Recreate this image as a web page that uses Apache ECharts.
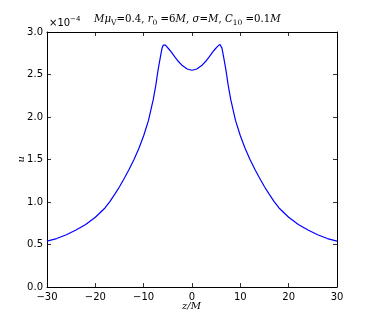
<!DOCTYPE html>
<html><head><meta charset="utf-8">
<script src="https://cdn.jsdelivr.net/npm/echarts@6/dist/echarts.min.js"></script>
<style>html,body{margin:0;padding:0;background:#fff}#c{width:374px;height:320px}</style>
</head><body><div id="c"></div>
<script>
var zValues = [-30,-28,-26,-24,-22,-20,-18,-17,-16,-15,-14,-13,-12,-11,-10,-9,-8,-7.5,-7,-6.5,-6.2,-5.95,-5.75,-5.5,-5.2,-4.8,-4.3,-3.6,-3,-2,-1,0,
  1,2,3,3.6,4.3,4.8,5.2,5.5,5.75,5.95,6.2,6.5,7,7.5,8,9,10,11,12,13,14,15,16,17,18,20,22,24,26,28,30];
var uValues = [0.54,0.57,0.615,0.67,0.735,0.82,0.93,1.005,1.09,1.18,1.28,1.385,1.50,1.63,1.78,1.96,2.21,2.37,2.56,2.72,2.81,2.845,2.855,2.845,2.825,2.80,2.765,2.71,2.665,2.605,2.565,2.55,
  2.565,2.605,2.665,2.71,2.765,2.80,2.825,2.845,2.855,2.845,2.81,2.72,2.56,2.37,2.21,1.96,1.78,1.63,1.50,1.385,1.28,1.18,1.09,1.005,0.93,0.82,0.735,0.67,0.615,0.57,0.54];
var xTicks = [-30,-20,-10,0,10,20,30];
var yTicks = [0.0,0.5,1.0,1.5,2.0,2.5,3.0];

var data = zValues.map(function(z,i){return [z,uValues[i]];});
var chart = echarts.init(document.getElementById('c'));
var lab = {fontFamily:'DejaVu Sans', fontSize:10, color:'#000'};
function fmtX(v){return String(v).replace('-','\u2212');}
var axLine = {show:true, onZero:false, lineStyle:{color:'#000', width:1}};
var tick = {show:true, inside:true, length:4, lineStyle:{color:'#000', width:0.8}};
chart.setOption({
  animation:false,
  grid:{left:47, right:37, top:32, bottom:33},
  xAxis:[
    {type:'value', min:xTicks[0], max:xTicks[xTicks.length-1], interval:10, position:'bottom',
     axisLine:axLine, axisTick:tick, splitLine:{show:false},
     axisLabel:Object.assign({margin:5, formatter:fmtX}, lab)},
    {type:'value', min:xTicks[0], max:xTicks[xTicks.length-1], interval:10, position:'top',
     axisLine:axLine, axisTick:tick, splitLine:{show:false}, axisLabel:{show:false}}
  ],
  yAxis:[
    {type:'value', min:yTicks[0], max:yTicks[yTicks.length-1], interval:0.5, position:'left',
     axisLine:axLine, axisTick:tick, splitLine:{show:false},
     axisLabel:Object.assign({margin:4, formatter:function(v){return v.toFixed(1);}}, lab)},
    {type:'value', min:yTicks[0], max:yTicks[yTicks.length-1], interval:0.5, position:'right',
     axisLine:axLine, axisTick:tick, splitLine:{show:false}, axisLabel:{show:false}}
  ],
  series:[{type:'line', data:data, smooth:false, showSymbol:false,
    lineStyle:{color:'#0000ff', width:1.2}}],
  graphic:[
    {type:'text', left:49, top:16, style:{
      text:'{a|\u00d710}{b|\u22124}', rich:{
        a:{fontFamily:'DejaVu Sans', fontSize:10, fill:'#000'},
        b:{fontFamily:'DejaVu Sans', fontSize:7, fill:'#000', padding:[0,0,8,0]}
      }}},
    {type:'text', left:94, top:14, style:{
      text:'{i|M\u03bc}{s|V}{n|=0.4, }{i|r}{s|0}{n| =6}{i|M}{n|, }{i|\u03c3}{n|=}{i|M}{n|, }{i|C}{s|10}{n| =0.1}{i|M}',
      rich:{
        i:{fontFamily:'DejaVu Serif', fontStyle:'italic', fontSize:10.2, fill:'#000'},
        n:{fontFamily:'DejaVu Serif', fontSize:10.2, fill:'#000'},
        s:{fontFamily:'DejaVu Serif', fontSize:7.5, fill:'#000', padding:[9,0,0,0]}
      }}},
    {type:'text', left:16, top:156, rotation:Math.PI/2, style:{
      text:'u', fontFamily:'DejaVu Serif', fontStyle:'italic', fontSize:10, fill:'#000'}},
    {type:'text', left:182, top:301, style:{
      text:'z/M', fontFamily:'DejaVu Serif', fontStyle:'italic', fontSize:10, fill:'#000'}}
  ]
});
</script></body></html>
